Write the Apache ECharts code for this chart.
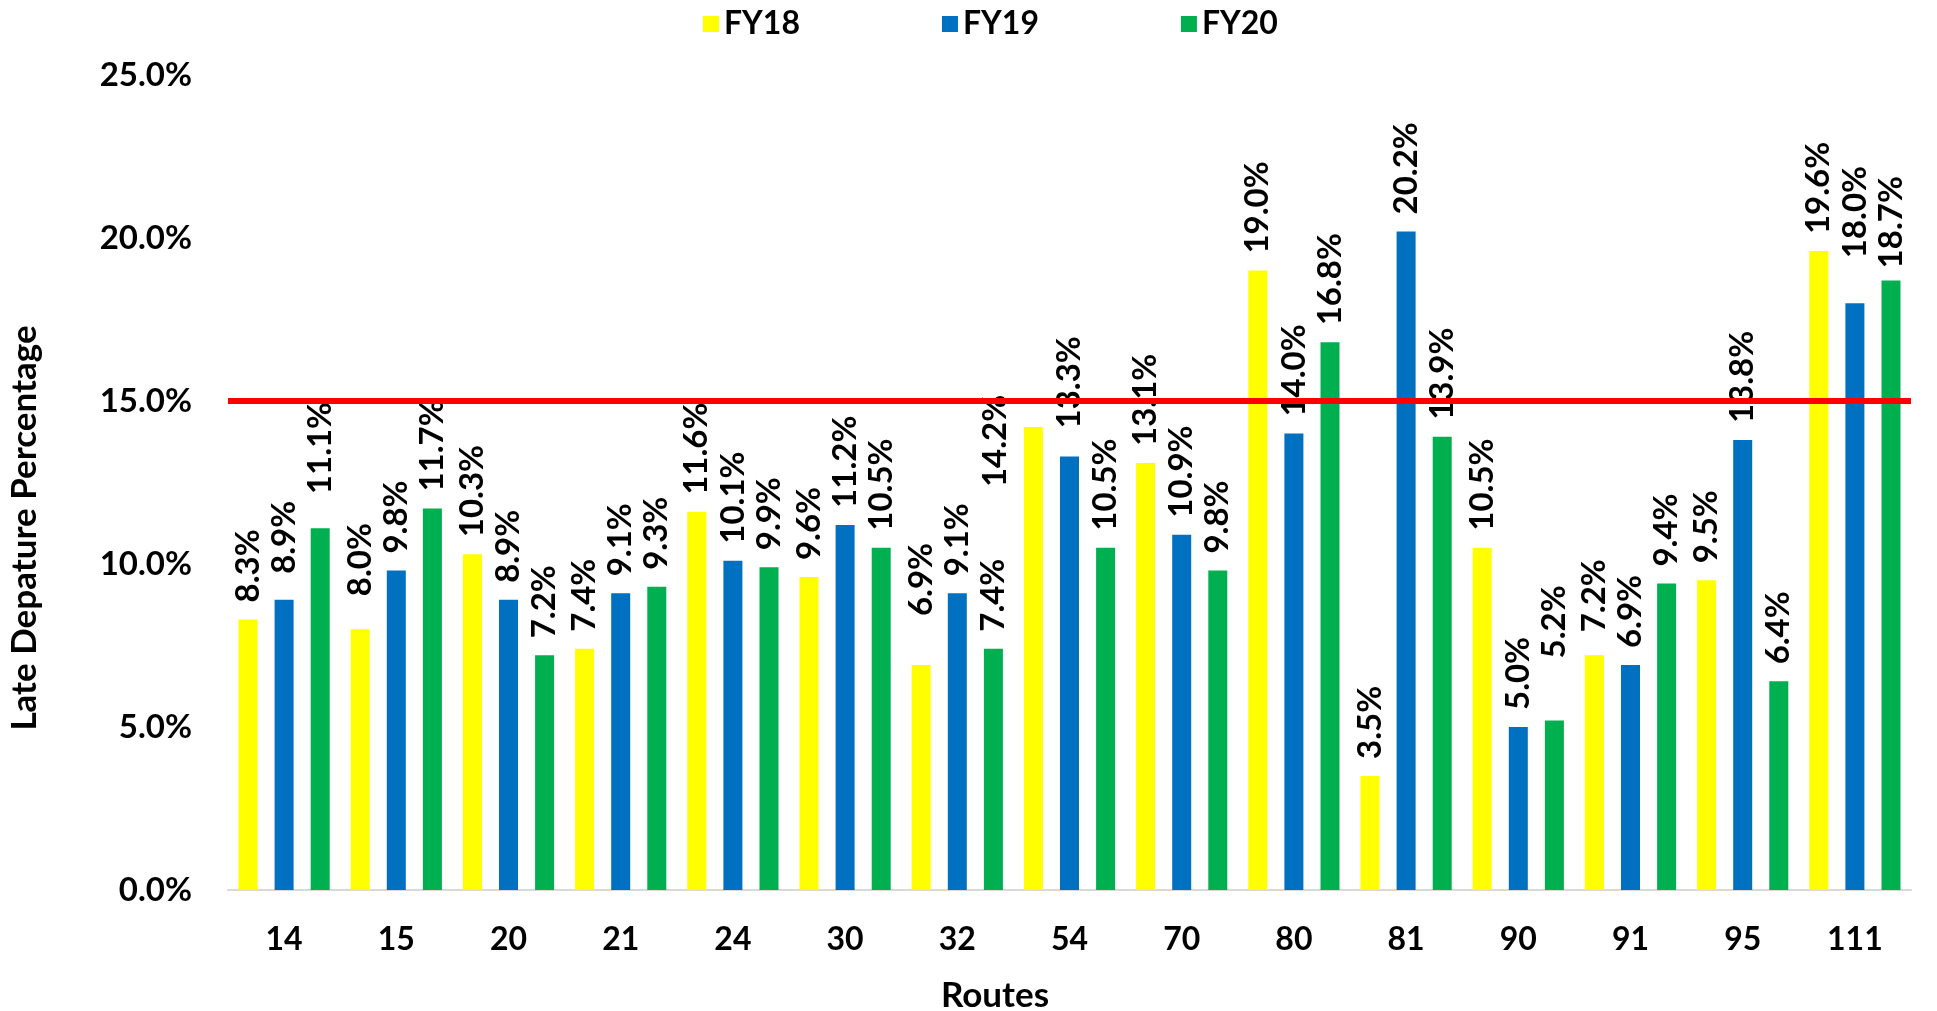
<!DOCTYPE html>
<html>
<head>
<meta charset="utf-8">
<title>Late Departure Percentage by Route</title>
<script src="https://cdn.jsdelivr.net/npm/echarts@6/dist/echarts.min.js"></script>
<style>
  html, body { margin: 0; padding: 0; background: #fff; }
  #chart { width: 1937px; height: 1011px; }
</style>
</head>
<body>
<div id="chart"></div>
<script>
// data
const routes = ['14', '15', '20', '21', '24', '30', '32', '54', '70', '80', '81', '90', '91', '95', '111']
const fy18 = [8.3, 8.0, 10.3, 7.4, 11.6, 9.6, 6.9, 14.2, 13.1, 19.0, 3.5, 10.5, 7.2, 9.5, 19.6]
const fy19 = [8.9, 9.8, 8.9, 9.1, 10.1, 11.2, 9.1, 13.3, 10.9, 14.0, 20.2, 5.0, 6.9, 13.8, 18.0]
const fy20 = [11.1, 11.7, 7.2, 9.3, 9.9, 10.5, 7.4, 10.5, 9.8, 16.8, 13.9, 5.2, 9.4, 6.4, 18.7]
const yTicks = [0, 5, 10, 15, 20, 25]
const target = 15

// a few labels were dragged by hand in the original: screen [right, down] in px
const labelNudge = {
  'FY18-15': [0, -16],
  'FY18-32': [0, -32],
  'FY18-54': [-38, 77],
  'FY18-91': [0, -6],
  'FY19-14': [0, -9],
  'FY19-54': [0, -11],
  'FY19-111': [0, -28],
  'FY20-14': [0, -17],
  'FY20-90': [0, -45],
  'FY20-111': [0, 5]
}

const font = 'Lato'

function makeSeries(name, values, color) {
  return {
    name: name,
    type: 'bar',
    barWidth: 19,
    barGap: '90%',
    itemStyle: { color: color },
    label: {
      show: true,
      position: 'top',
      distance: 17,
      rotate: 90,
      align: 'left',
      verticalAlign: 'middle',
      fontFamily: font,
      fontWeight: 'bold',
      fontSize: 33,
      color: '#000',
      formatter: p => p.value.toFixed(1) + '%'
    },
    data: values.map((v, i) => {
      const nudge = labelNudge[name + '-' + routes[i]]
      // label is turned 90deg, so its own x runs up the screen and its y runs right
      return nudge ? { value: v, label: { offset: [-nudge[1], nudge[0]] } } : v
    })
  }
}

const chart = echarts.init(document.getElementById('chart'))

const series = [
  makeSeries('FY18', fy18, '#FFFF00'),
  makeSeries('FY19', fy19, '#0070C0'),
  makeSeries('FY20', fy20, '#00B050')
]
series[2].markLine = {
  silent: true,
  symbol: 'none',
  z: 10,
  label: { show: false },
  lineStyle: { color: '#FF0000', width: 6, type: 'solid' },
  data: [{ yAxis: target }]
}

chart.setOption({
  animation: false,
  textStyle: { fontFamily: font },
  grid: {
    left: 228,
    right: 26,
    top: 75,
    bottom: 121,
    outerBoundsMode: 'none'
  },
  legend: {
    left: 698,
    top: 3,
    itemWidth: 16,
    itemHeight: 16,
    itemGap: 142,
    icon: 'rect',
    textStyle: { fontFamily: font, fontWeight: 'bold', fontSize: 32, color: '#000' },
    data: ['FY18', 'FY19', 'FY20']
  },
  xAxis: {
    type: 'category',
    data: routes,
    name: 'Routes',
    nameLocation: 'middle',
    nameGap: 88,
    nameTextStyle: { fontFamily: font, fontWeight: 'bold', fontSize: 35, color: '#000', padding: [0, 149, 0, 0] },
    axisTick: { show: false },
    axisLine: { lineStyle: { color: '#D9D9D9', width: 2 } },
    axisLabel: { fontFamily: font, fontWeight: 'bold', fontSize: 32, color: '#000', margin: 34 }
  },
  yAxis: {
    type: 'value',
    min: yTicks[0],
    max: yTicks[yTicks.length - 1],
    interval: yTicks[1] - yTicks[0],
    name: 'Late Depature Percentage',
    nameLocation: 'middle',
    nameGap: 186,
    nameTextStyle: { fontFamily: font, fontWeight: 'bold', fontSize: 35, color: '#000', padding: [0, 91, 0, 0] },
    axisLine: { show: false },
    axisTick: { show: false },
    splitLine: { show: false },
    axisLabel: {
      fontFamily: font,
      fontWeight: 'bold',
      fontSize: 33,
      color: '#000',
      margin: 36,
      formatter: v => v.toFixed(1) + '%'
    }
  },
  series: series
})
</script>
</body>
</html>
